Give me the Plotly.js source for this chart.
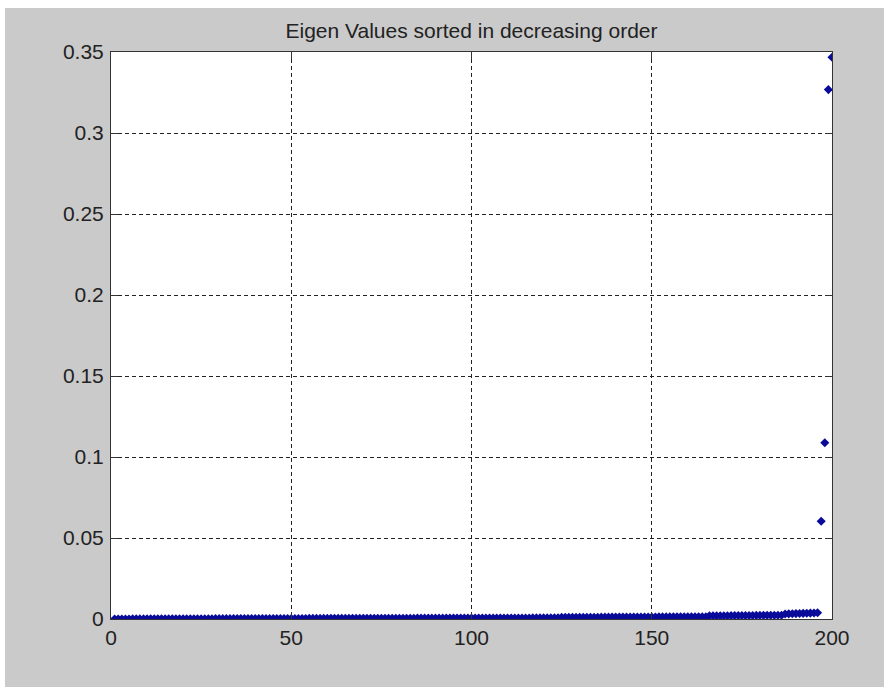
<!DOCTYPE html>
<html>
<head>
<meta charset="utf-8">
<script src="https://cdn.plot.ly/plotly-3.0.1.min.js"></script>
<style>
  html, body { margin: 0; padding: 0; background: #ffffff; width: 884px; height: 687px; overflow: hidden; }
  #chart { position: absolute; left: 5px; top: 8px; width: 879px; height: 679px; }
</style>
</head>
<body>
<div id="chart"></div>
<script>
// Eigenvalues (index 1..200)
const lowBand = [
  0.00001,0.00002,0.00002,0.00004,0.00004,0.00005,0.00006,0.00006,0.00007,0.00008,
  0.00009,0.00009,0.00010,0.00011,0.00011,0.00012,0.00013,0.00013,0.00014,0.00015,
  0.00015,0.00016,0.00017,0.00017,0.00018,0.00019,0.00019,0.00020,0.00021,0.00021,
  0.00022,0.00022,0.00023,0.00024,0.00024,0.00025,0.00025,0.00026,0.00027,0.00027,
  0.00028,0.00028,0.00029,0.00029,0.00030,0.00031,0.00031,0.00032,0.00032,0.00033,
  0.00033,0.00034,0.00034,0.00035,0.00036,0.00036,0.00037,0.00037,0.00038,0.00038,
  0.00039,0.00039,0.00040,0.00040,0.00041,0.00041,0.00042,0.00042,0.00043,0.00043,
  0.00044,0.00044,0.00045,0.00045,0.00046,0.00046,0.00047,0.00047,0.00048,0.00048,
  0.00049,0.00049,0.00050,0.00050,0.00051,0.00051,0.00052,0.00052,0.00053,0.00053,
  0.00054,0.00054,0.00055,0.00055,0.00056,0.00056,0.00057,0.00057,0.00058,0.00058,
  0.00059,0.00059,0.00060,0.00060,0.00061,0.00061,0.00062,0.00062,0.00063,0.00063,
  0.00064,0.00064,0.00065,0.00065,0.00066,0.00066,0.00067,0.00067,0.00068,0.00068,
  0.00069,0.00069,0.00070,0.00071
];
const midBand = [
  0.00102,0.00103,0.00104,0.00105,0.00106,0.00107,0.00108,0.00109,0.00110,0.00111,
  0.00112,0.00113,0.00114,0.00115,0.00116,0.00117,0.00118,0.00119,0.00120,0.00121,
  0.00122,0.00123,0.00124,0.00125,0.00126,0.00127,0.00128,0.00129,0.00130,0.00131,
  0.00132,0.00133,0.00134,0.00135,0.00136,0.00137,0.00138,0.00139,0.00140,0.00141,
  0.00142
];
const upperBand = [
  0.00195,0.00197,0.00199,0.00201,0.00203,0.00205,0.00207,0.00209,0.00211,0.00213,
  0.00215,0.00217,0.00219,0.00221,0.00223,0.00225,0.00227,0.00229,0.00231,0.00233,
  0.00235
];
const topBand = [0.00310,0.00318,0.00325,0.00332,0.00340,0.00348,0.00356,0.00364,0.00372,0.00385];
const largest = [0.0603, 0.1088, 0.3268, 0.3468];

const eigenValues = [].concat(lowBand, midBand, upperBand, topBand, largest);
const indices = eigenValues.map((_, i) => i + 1);

const xTicks = [0, 50, 100, 150, 200];
const xTickText = ["0", "50", "100", "150", "200"];
const yTicks = [0, 0.05, 0.1, 0.15, 0.2, 0.25, 0.3, 0.35];
const yTickText = ["0", "0.05", "0.1", "0.15", "0.2", "0.25", "0.3", "0.35"];

const fontFam = '"Liberation Sans", Arial, Helvetica, sans-serif';

const trace = {
  x: indices,
  y: eigenValues,
  type: 'scatter',
  mode: 'markers',
  marker: { symbol: 'diamond', size: 7, color: '#0a0a9a' },
  hoverinfo: 'x+y',
  showlegend: false
};

const axisCommon = {
  showline: true,
  linecolor: '#333333',
  linewidth: 1,
  mirror: 'ticks',
  ticks: 'inside',
  ticklen: 7,
  tickcolor: '#333333',
  tickwidth: 1,
  showgrid: true,
  gridcolor: '#222222',
  gridwidth: 1,
  griddash: '4px,3px',
  zeroline: false,
  tickfont: { family: fontFam, size: 21, color: '#222222' },
  fixedrange: true
};

const layout = {
  width: 879,
  height: 679,
  paper_bgcolor: '#cacaca',
  plot_bgcolor: '#ffffff',
  margin: { l: 106, r: 52, t: 44, b: 68 },
  title: {
    text: 'Eigen Values sorted in decreasing order',
    font: { family: fontFam, size: 21, color: '#222222' },
    x: 0.5,
    xref: 'paper',
    xanchor: 'center',
    y: 1,
    yref: 'paper',
    yanchor: 'bottom',
    pad: { b: 14 }
  },
  xaxis: Object.assign({}, axisCommon, {
    range: [0, 200],
    tickvals: xTicks,
    ticktext: xTickText,
    ticklabelstandoff: 0
  }),
  yaxis: Object.assign({}, axisCommon, {
    range: [0, 0.35],
    tickvals: yTicks,
    ticktext: yTickText,
    ticklabelstandoff: 2
  })
};

Plotly.newPlot('chart', [trace], layout, { displayModeBar: false, staticPlot: true });
</script>
</body>
</html>
